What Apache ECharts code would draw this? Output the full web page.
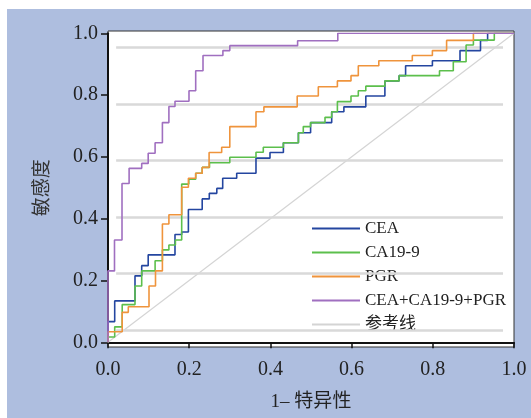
<!DOCTYPE html>
<html>
<head>
<meta charset="utf-8">
<script src="https://cdn.jsdelivr.net/npm/echarts@6/dist/echarts.min.js"></script>
<style>
  body { margin: 0; background: #fff; }
  #wrap { position: relative; width: 531px; height: 418px; background: #fff; }
  #bg { position: absolute; left: 7px; top: 9px; width: 524px; height: 409px; background: #aebedf; }
  #main { position: absolute; left: 0; top: 0; width: 531px; height: 418px; }
</style>
</head>
<body>
<div id="wrap">
  <div id="bg"></div>
  <div id="main"></div>
</div>
<script>
// ROC points (1-特异性, 敏感度)
var ceaX = [0, 0, 0.0165, 0.0665, 0.083, 0.099, 0.165, 0.1815, 0.198, 0.232, 0.2495, 0.268, 0.2825, 0.317, 0.3645, 0.399, 0.432, 0.469, 0.499, 0.551, 0.581, 0.635, 0.682, 0.717, 0.733, 0.799, 0.867, 0.9175, 0.935, 1];
var ceaY = [0, 0.067, 0.134, 0.215, 0.248, 0.283, 0.349, 0.357, 0.430, 0.464, 0.482, 0.498, 0.531, 0.547, 0.596, 0.614, 0.646, 0.678, 0.711, 0.746, 0.762, 0.797, 0.846, 0.863, 0.895, 0.911, 0.944, 0.977, 1, 1];

var ca199X = [0, 0, 0.0165, 0.035, 0.0665, 0.083, 0.116, 0.134, 0.150, 0.166, 0.1815, 0.199, 0.216, 0.232, 0.250, 0.300, 0.3645, 0.3825, 0.432, 0.469, 0.481, 0.499, 0.5345, 0.551, 0.565, 0.5985, 0.6165, 0.635, 0.682, 0.717, 0.8165, 0.8505, 0.882, 0.900, 0.9515, 1];
var ca199Y = [0, 0.017, 0.050, 0.122, 0.182, 0.231, 0.264, 0.299, 0.315, 0.331, 0.512, 0.528, 0.547, 0.566, 0.581, 0.599, 0.615, 0.631, 0.646, 0.678, 0.698, 0.711, 0.728, 0.746, 0.779, 0.797, 0.814, 0.829, 0.846, 0.863, 0.879, 0.908, 0.962, 0.978, 1, 1];

var pgrX = [0, 0, 0.035, 0.050, 0.101, 0.117, 0.134, 0.150, 0.1815, 0.198, 0.216, 0.232, 0.249, 0.280, 0.300, 0.3645, 0.384, 0.466, 0.518, 0.565, 0.5985, 0.6165, 0.667, 0.7495, 0.799, 0.834, 0.900, 1];
var pgrY = [0, 0.034, 0.097, 0.115, 0.182, 0.231, 0.383, 0.413, 0.502, 0.531, 0.547, 0.566, 0.614, 0.631, 0.698, 0.746, 0.762, 0.797, 0.827, 0.846, 0.863, 0.895, 0.911, 0.928, 0.944, 0.977, 1, 1];

var comboX = [0, 0, 0.016, 0.0345, 0.052, 0.083, 0.099, 0.116, 0.134, 0.150, 0.165, 0.1995, 0.216, 0.234, 0.283, 0.300, 0.467, 0.566, 1];
var comboY = [0, 0.231, 0.331, 0.514, 0.563, 0.579, 0.612, 0.646, 0.711, 0.763, 0.780, 0.814, 0.879, 0.928, 0.944, 0.960, 0.976, 1, 1];

// faint horizontal rules seen behind the curves
var bandY = [0.955, 0.771, 0.589, 0.406, 0.223, 0.04];
var bandFrom = 0.02, bandTo = 0.973;

var seriesNames = ['CEA', 'CA19-9', 'PGR', 'CEA+CA19-9+PGR', '参考线'];
var seriesColors = ['#2446a0', '#5cbf4c', '#ef943c', '#a06fc0', '#d4d4d4'];
var ticks = [0, 0.2, 0.4, 0.6, 0.8, 1.0];

function pairs(xs, ys) {
  return xs.map(function (x, i) { return [x, ys[i]]; });
}

var latin = 'Liberation Serif, "Noto Sans CJK SC", serif';

var myChart = echarts.init(document.getElementById('main'));

function rocSeries(idx, xs, ys) {
  return {
    name: seriesNames[idx],
    type: 'line',
    step: 'end',
    showSymbol: false,
    data: pairs(xs, ys),
    z: 5,
    itemStyle: { color: seriesColors[idx] },
    lineStyle: { color: seriesColors[idx], width: 1.6 }
  };
}

var option = {
  animation: false,
  grid: [
    { left: 108, top: 33.3, width: 406, height: 309 },
    { left: 108, top: 31, width: 406, height: 316, show: true, backgroundColor: '#fff', borderColor: '#333', borderWidth: 1, z: 0 }
  ],
  xAxis: [{
    type: 'value', min: ticks[0], max: ticks[ticks.length - 1], interval: 0.2,
    offset: 4.5,
    name: '1– 特异性', nameLocation: 'middle', nameGap: 46,
    nameTextStyle: { fontFamily: latin, fontSize: 19, color: '#222' },
    axisLine: { lineStyle: { color: '#111', width: 2 } },
    axisTick: { length: 6, lineStyle: { color: '#111', width: 1.5 } },
    axisLabel: { fontFamily: latin, fontSize: 20, color: '#222', margin: 13, formatter: function (v) { return v.toFixed(1); } },
    splitLine: { show: false }
  }, {
    gridIndex: 1, type: 'value', show: false, min: 0, max: 1
  }],
  yAxis: [{
    type: 'value', min: ticks[0], max: ticks[ticks.length - 1], interval: 0.2,
    name: '敏感度', nameLocation: 'middle', nameGap: 58, nameRotate: 90,
    nameTextStyle: { fontFamily: '"Noto Sans CJK SC", serif', fontSize: 19, color: '#333' },
    axisLine: { show: true, lineStyle: { color: '#111', width: 2 } },
    axisTick: { show: true, length: 7, lineStyle: { color: '#111', width: 1.5 } },
    axisLabel: { fontFamily: latin, fontSize: 20, color: '#222', margin: 10, formatter: function (v) { return v.toFixed(1); } },
    splitLine: { show: false }
  }, {
    gridIndex: 1, type: 'value', show: false, min: 0, max: 1
  }],
  legend: {
    orient: 'vertical', left: 307, top: 215,
    icon: 'rect', itemWidth: 48, itemHeight: 2, itemGap: 7,
    data: seriesNames,
    textStyle: { fontFamily: latin, fontSize: 17, lineHeight: 17, color: '#222' }
  },
  series: [
    {
      name: 'bands', type: 'line', data: [], z: 1, silent: true,
      markLine: {
        silent: true, symbol: 'none', label: { show: false },
        lineStyle: { color: '#d9d9d9', width: 2.5, type: 'solid' },
        data: bandY.map(function (y) { return [{ coord: [bandFrom, y] }, { coord: [bandTo, y] }]; })
      }
    },
    {
      name: seriesNames[4], type: 'line', showSymbol: false, z: 2,
      data: [[0, 0], [1, 1]],
      itemStyle: { color: seriesColors[4] },
      lineStyle: { color: seriesColors[4], width: 1.2 }
    },
    rocSeries(0, ceaX, ceaY),
    rocSeries(1, ca199X, ca199Y),
    rocSeries(2, pgrX, pgrY),
    rocSeries(3, comboX, comboY)
  ]
};

myChart.setOption(option);
window.addEventListener('resize', myChart.resize);
</script>
</body>
</html>
